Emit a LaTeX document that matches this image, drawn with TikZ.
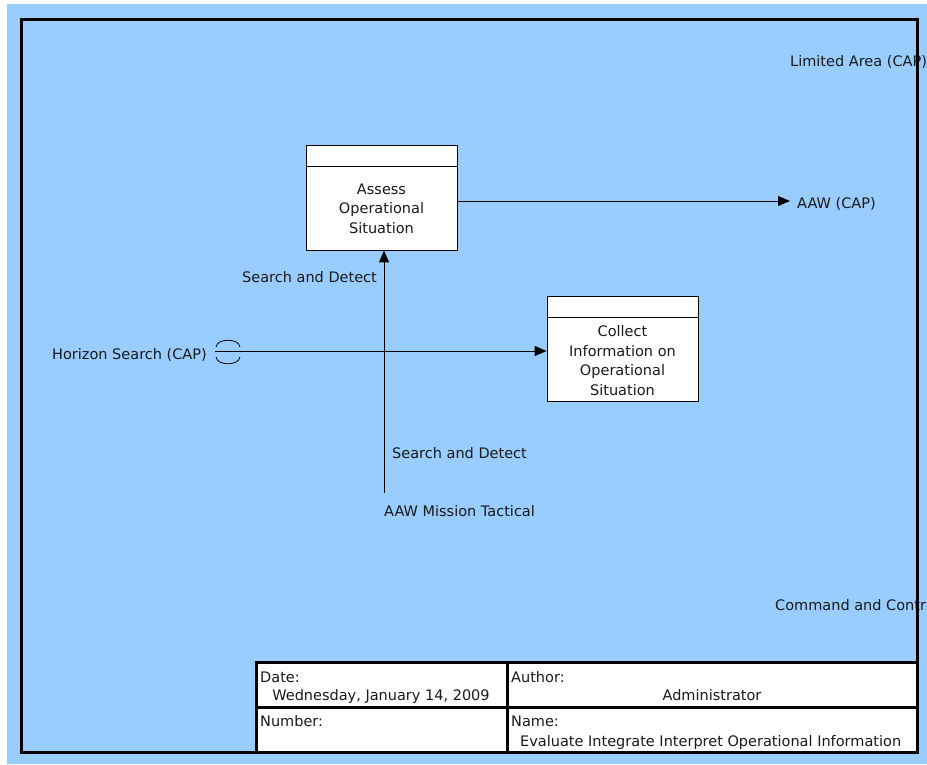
\documentclass[tikz,border=0pt]{standalone}
\usepackage{fontspec}
\setmainfont{DejaVu Sans}
\usetikzlibrary{arrows.meta}
\definecolor{bgblue}{HTML}{99CCFF}
\definecolor{ink}{HTML}{1A1A1A}

\begin{document}
\begin{tikzpicture}[x=1pt,y=-1pt,
  lbl/.style={inner sep=0pt, anchor=base west, text=ink, font=\fontsize{14.5}{19}\selectfont},
  clbl/.style={lbl, anchor=base},
  boxtext/.style={inner sep=0pt, align=center, text=ink, font=\fontsize{14.5}{19.5}\selectfont},
  flow/.style={draw=black, line width=1pt, -{Triangle[length=12pt,width=10pt]}},
  actbox/.style={draw=black, fill=white, line width=0.8pt, inner sep=0pt,
                 minimum width=151pt, minimum height=105pt},
  frame/.style={draw=black, line width=3pt},
  tunnel/.style={draw=black, line width=0.8pt}]

% page and background
\useasboundingbox (0,0) rectangle (927,764);
\fill[white] (0,0) rectangle (927,764);
\fill[bgblue] (7,4) rectangle (927,764);

% activity boxes
\node[actbox] (a) at (381.5,197.5) {};
\draw[line width=0.8pt] (306,166) -- (457,166);
\node[boxtext] (at) at (381.5,208.5) {Assess\\Operational\\Situation};

\node[actbox] (b) at (622.5,349) {};
\draw[line width=0.8pt] (547,317) -- (698,317);
\node[boxtext] (bt) at (622.5,360.5) {Collect\\Information on\\Operational\\Situation};

% free ends of connectors
\coordinate (aawend) at (790,201);
\coordinate (mt) at (384,493);
\coordinate (hs) at (215,351);

% connectors
\draw[flow] (aawend -| a.east) -- (aawend);
\draw[flow] (mt) -- (mt |- a.south);
\draw[flow] (hs) -- (hs -| b.west);

% tunnel marks on the horizon search input
\draw[tunnel] (216,347) .. controls (217,338) and (239,338) .. (240,347);
\draw[tunnel] (216,357) .. controls (217,366) and (239,366) .. (240,357);

% labels
\node[lbl] (l1) at (790,66) {Limited Area (CAP)};
\node[lbl] (l2) at (797,208) {AAW (CAP)};
\node[lbl] (l3) at (242,282) {Search and Detect};
\node[lbl] (l4) at (52,359) {Horizon Search (CAP)};
\node[lbl] (l5) at (392,458) {Search and Detect};
\node[lbl] (l6) at (384,516) {AAW Mission Tactical};
\node[lbl] (l7) at (775,610) {Command and Contr};

% title block
\fill[white] (256,662) rectangle (917,752);
\draw[frame] (256,752) -- (256,662) -- (917,662);
\draw[frame] (507,662) -- (507,752);
\draw[frame] (256,707) -- (917,707);
\node[lbl] (t1) at (260,682) {Date:};
\node[clbl] (t2) at (381,700) {Wednesday, January 14, 2009};
\node[lbl] (t3) at (511,682) {Author:};
\node[clbl] (t4) at (712,700) {Administrator};
\node[lbl] (t5) at (260,726) {Number:};
\node[lbl] (t6) at (511,726) {Name:};
\node[lbl] (t7) at (520,746) {Evaluate Integrate Interpret Operational Information};

% outer frame
\draw[frame] (21.5,19.5) rectangle (917,752);
\end{tikzpicture}
\end{document}
